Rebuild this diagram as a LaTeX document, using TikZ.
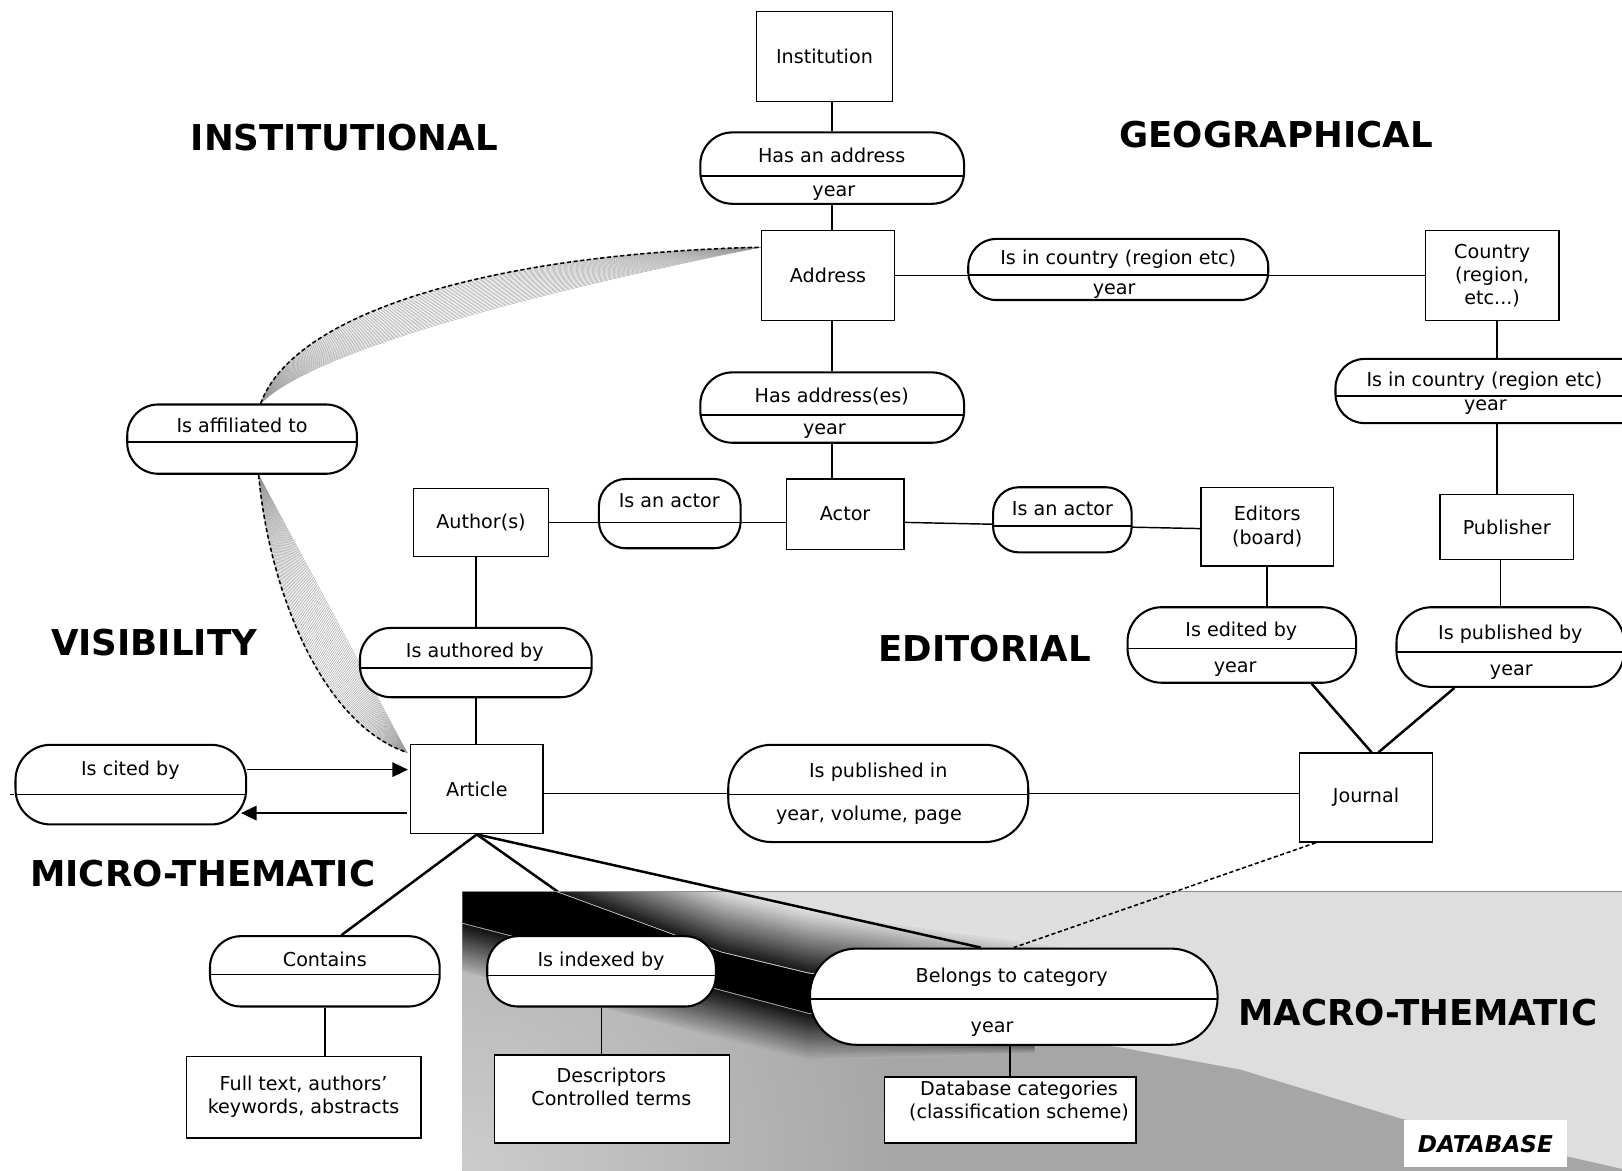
\documentclass[tikz,border=0pt]{standalone}
\usepackage{fontspec}
\setmainfont{DejaVu Sans}
\usetikzlibrary{arrows.meta}
\newcommand\lblfont{\fontsize{18.5}{22.5}\selectfont}
\newcommand\headfont{\fontsize{34.4}{38}\selectfont\bfseries}
\pgfdeclarelayer{bg}
\pgfdeclarelayer{edges}
\pgfsetlayers{bg,edges,main}

\begin{document}
\begin{tikzpicture}[x=1pt,y=-1pt,
  txt/.style={font=\lblfont, inner sep=0pt, text height=13.5pt, text depth=0pt, align=center},
  txtml/.style={font=\lblfont, inner sep=0pt, align=center},
  box/.style={draw, fill=white, line width=1.3pt, inner sep=0pt, font=\lblfont, align=center},
  pill/.style={draw, fill=white, line width=2pt, inner sep=0pt},
  divider/.style={path picture={\draw[line width=1.6pt] ([yshift=#1]path picture bounding box.west) -- ([yshift=#1]path picture bounding box.east);}},
  head/.style={font=\headfont, inner sep=0pt, text height=25pt, text depth=0pt},
  conn/.style={line width=1.4pt},
  thickconn/.style={line width=2.4pt},
  dashconn/.style={line width=1.5pt, dash pattern=on 4pt off 2.5pt},
  fan/.style={black!40, line width=0.35pt},
  tip/.style={-{Triangle[length=15pt,width=14pt]}},
]
\useasboundingbox (0,0) rectangle (1568,1132);

% ---------- entities and relations ----------
\node[box, minimum width=132pt, minimum height=87pt] (inst) at (797,54.5) {Institution};

\node[pill, minimum width=255pt, minimum height=69pt, rounded corners=31pt, divider=-7.5pt] (hasaddr) at (804.5,162.5) {};
\node[txt] (hasaddr-t) at (804,150) {Has an address};
\node[txt] (hasaddr-b) at (806,183) {year};

\node[box, minimum width=129pt, minimum height=87pt] (addr) at (800.5,266.5) {Address};

\node[pill, minimum width=290pt, minimum height=59pt, rounded corners=27pt, divider=-5.5pt] (incountry1) at (1081,260.5) {};
\node[txt] (incountry1-t) at (1081,249) {Is in country (region etc)};
\node[txt] (incountry1-b) at (1077,278) {year};

\node[box, minimum width=129pt, minimum height=87pt] (country) at (1442.5,266.5) {Country\\(region,\\etc...)};

\node[pill, minimum width=312pt, minimum height=62pt, rounded corners=28pt, divider=-5pt] (incountry2) at (1447,378) {};
\node[txt] (incountry2-t) at (1435,367) {Is in country (region etc)};
\node[txt] (incountry2-b) at (1436,390) {year};

\node[pill, minimum width=255pt, minimum height=68pt, rounded corners=31pt, divider=-7pt] (hasaddres) at (804.5,394) {};
\node[txt] (hasaddres-t) at (804,382) {Has address(es)};
\node[txt] (hasaddres-b) at (797,413) {year};

\node[box, minimum width=114pt, minimum height=68pt] (actor) at (817,497) {Actor};

\node[pill, minimum width=137pt, minimum height=67pt, rounded corners=26pt, divider=-8.5pt] (isactor1) at (647.5,496.5) {};
\node[txt] (isactor1-t) at (647,484) {Is an actor};

\node[box, minimum width=130pt, minimum height=66pt] (author) at (465,505) {Author(s)};

\node[pill, minimum width=134pt, minimum height=63pt, rounded corners=25pt, divider=-6pt] (isactor2) at (1027,502.5) {};
\node[txt] (isactor2-t) at (1027,492) {Is an actor};

\node[box, minimum width=128pt, minimum height=76pt] (editors) at (1225,509) {Editors\\(board)};
\node[box, minimum width=129pt, minimum height=63pt] (publisher) at (1456.5,509.5) {Publisher};

\node[pill, minimum width=221pt, minimum height=73pt, rounded corners=33pt, divider=-3.5pt] (editedby) at (1200.5,623.5) {};
\node[txt] (editedby-t) at (1200,609) {Is edited by};
\node[txt] (editedby-b) at (1194,643) {year};

\node[pill, minimum width=220pt, minimum height=77pt, rounded corners=34pt, divider=-4.5pt] (pubby) at (1460,625.5) {};
\node[txt] (pubby-t) at (1460,611) {Is published by};
\node[txt] (pubby-b) at (1461,646) {year};

\node[pill, minimum width=222pt, minimum height=67pt, rounded corners=30pt, divider=-2.5pt] (affil) at (234,424.5) {};
\node[txt] (affil-t) at (234,411) {Is affiliated to};

\node[pill, minimum width=224pt, minimum height=67pt, rounded corners=30pt, divider=-5.5pt] (authored) at (460,640.5) {};
\node[txt] (authored-t) at (459,629) {Is authored by};

\node[box, minimum width=128pt, minimum height=86pt] (article) at (461,763) {Article};

\node[pill, minimum width=223pt, minimum height=77pt, rounded corners=34pt, divider=-9.5pt] (citedby) at (126.5,758.5) {};
\node[txt] (citedby-t) at (126,743) {Is cited by};

\node[pill, minimum width=290pt, minimum height=94pt, rounded corners=42pt, divider=-1pt] (pubin) at (849,767) {};
\node[txt] (pubin-t) at (849,745) {Is published in};
\node[txt] (pubin-b) at (840,786) {year, volume, page};

\node[box, minimum width=129pt, minimum height=86pt] (journal) at (1320.5,771) {Journal};

\node[pill, minimum width=222pt, minimum height=68pt, rounded corners=30pt, divider=-3pt] (contains) at (314,939) {};
\node[txt] (contains-t) at (314,928) {Contains};

\node[pill, minimum width=221pt, minimum height=68pt, rounded corners=30pt, divider=-4pt] (indexed) at (581.5,939) {};
\node[txt] (indexed-t) at (581,928) {Is indexed by};

\node[pill, minimum width=394pt, minimum height=93pt, rounded corners=45pt, divider=-2.5pt] (belongs) at (980,963.5) {};
\node[txt] (belongs-t) at (978,943) {Belongs to category};
\node[txt] (belongs-b) at (959,991) {year};

\node[box, minimum width=227pt, minimum height=79pt] (fulltext) at (293.5,1060.5) {Full text, authors'\\keywords, abstracts};
\node[box, minimum width=227pt, minimum height=85pt] (descr) at (591.5,1062.5) {};
\node[txtml] (descr-t) at (591,1051) {Descriptors\\Controlled terms};
\node[box, minimum width=243pt, minimum height=64pt] (dbcat) at (976.5,1073) {};
\node[txtml] (dbcat-t) at (985,1064) {Database categories\\(classification scheme)};

\node[fill=white, minimum width=158pt, minimum height=45pt, inner sep=0pt,
      font=\fontsize{22.4}{26}\selectfont\bfseries\itshape] (dbbox) at (1436,1105.5) {DATABASE};

% ---------- area headings ----------
\node[head] (h-inst) at (333,133) {INSTITUTIONAL};
\node[head] (h-geo) at (1233.5,130) {GEOGRAPHICAL};
\node[head] (h-vis) at (149,621) {VISIBILITY};
\node[head] (h-edit) at (952,627) {EDITORIAL};
\node[head] (h-micro) at (196,844) {MICRO-THEMATIC};
\node[head] (h-macro) at (1370.5,979) {MACRO-THEMATIC};

% ---------- database area (behind everything) ----------
\begin{pgfonlayer}{bg}
  \draw[thickconn] (article.south) -- ([xshift=17pt]indexed.north);
  \begin{scope}
    \clip (447,862) rectangle (1568,1132);
    \fill[black!13] (447,862) rectangle (1568,1132);
    % lower, darker half below the diagonal
    \begin{scope}
      \clip (447,892) -- (781,979) -- (1080,1012) -- (1199,1034) -- (1353,1081) -- (1568,1130)
            -- (1568,1132) -- (447,1132) -- cycle;
      \fill[black!35] (447,862) rectangle (1568,1132);
      \shade[inner color=black!20, outer color=black!35] (447,1132) circle (430);
    \end{scope}
    % soft edges of the dark band
    \foreach \k in {24,23,...,1} {
      \pgfmathtruncatemacro\shadeval{92-3.3*\k}
      \draw[black!\shadeval, line width=3pt]
        (447,{829-2.5*\k}) -- (537,{862-2.5*\k}) -- (698,{921-2.5*\k}) -- (781,{941-2.5*\k}) -- (1100,{985-2.5*\k});
    }
    \foreach \k in {18,17,...,1} {
      \pgfmathtruncatemacro\shadeval{95-3.4*\k}
      \draw[black!\shadeval, line width=3pt]
        (447,{892+2.5*\k}) -- (698,{957+2.5*\k}) -- (781,{979+2.5*\k}) -- (1000,{1003+0.8*\k});
    }
    % dark band
    \fill[black] (447,829) -- (537,862) -- (698,921) -- (781,941) -- (1100,985)
                 -- (1100,1000) -- (781,979) -- (698,957) -- (447,892) -- cycle;
  \end{scope}
  \draw[black!45, line width=1pt] (447,862) -- (1568,862);
\end{pgfonlayer}

% ---------- connectors ----------
\begin{pgfonlayer}{edges}
  \draw[conn] (hasaddr.north) -- (hasaddr.north |- inst.south);
  \draw[conn] (hasaddr.south) -- (hasaddr.south |- addr.north);
  \draw[conn] (hasaddres.north) -- (hasaddres.north |- addr.south);
  \draw[conn] (hasaddres.south) -- (hasaddres.south |- actor.north);
  \draw[conn] (addr.east) -- (country.west);
  \draw[conn] (incountry2.north) -- (incountry2.north |- country.south);
  \draw[conn] (incountry2.south) -- (incountry2.south |- publisher.north);
  \coordinate (pubdrop) at ([xshift=-6pt]publisher.south);
  \draw[conn] (pubdrop) -- (pubdrop |- pubby.north);
  \draw[conn] (editors.south) -- (editors.south |- editedby.north);
  \draw[thickconn] ([xshift=-54pt]pubby.south) -- ([xshift=12pt]journal.north);
  \draw[thickconn] ([xshift=67.5pt]editedby.south) -- ([xshift=5.5pt]journal.north);
  \draw[conn] (author.east) -- (author.east -| actor.west);
  \draw[conn] ([yshift=-8pt]actor.east) -- ([yshift=-2pt]editors.west);
  \draw[conn] (authored.north) -- (authored.north |- author.south);
  \draw[conn] (authored.south) -- (authored.south |- article.north);
  \draw[conn] (pubin.center -| article.east) -- (pubin.center -| journal.west);

  \coordinate (citeout) at ([yshift=14.5pt]citedby.east);
  \draw[conn, tip, shorten >=2pt] (citeout) -- (citeout -| article.west);
  \coordinate (citein) at ([yshift=-23pt]article.west);
  \draw[conn, tip, shorten <=3pt, shorten >=-6pt] (citein) -- (citein -| citedby.east);
  \coordinate (citeleft) at (10,768);
  \draw[line width=1.6pt] (citeleft) -- ([yshift=-9.5pt]citedby.west);

  % affiliation: fanned curves up to the address and down to the article
  \coordinate (fa1) at ([xshift=18pt]affil.north);
  \coordinate (fa2) at ([yshift=27.5pt]addr.west);
  \foreach \s in {0,0.04,...,1.01}
    \draw[fan] (fa1) .. controls +({33+27*\s},{-90+30*\s}) and +({-254+104*\s},{6+24*\s}) .. (fa2);
  \draw[dashconn] (fa1) .. controls +(33,-90) and +(-254,6) .. (fa2);

  \coordinate (fb1) at ([xshift=16pt]affil.south);
  \coordinate (fb2) at ([shift={(-3pt,-8pt)}]article.north west);
  \foreach \s in {0,0.04,...,1.01}
    \draw[fan] (fb1) .. controls +({10+38*\s},{110-20*\s}) and +({-83+35*\s},{-28-62*\s}) .. (fb2);
  \draw[dashconn] (fb1) .. controls +(10,110) and +(-83,-28) .. (fb2);

  \draw[thickconn] (article.south) -- ([xshift=16pt]contains.north);
  \draw[thickconn] (article.south) -- ([xshift=-32pt]belongs.north);
  \draw[dashconn] ([xshift=-48.5pt]journal.south) -- (belongs.north);
  \draw[conn] (contains.south) -- (contains.south |- fulltext.north);
  \draw[conn] (indexed.south) -- (indexed.south |- descr.north);
  \draw[conn] (dbcat.north) -- (dbcat.north |- belongs.south);
\end{pgfonlayer}
\end{tikzpicture}
\end{document}
